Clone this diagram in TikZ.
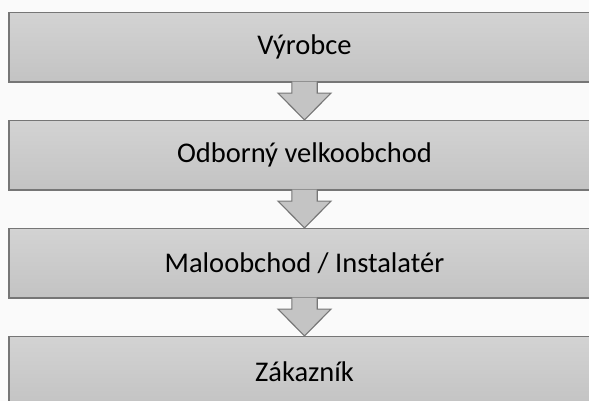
\documentclass[tikz,border=0pt]{standalone}
\usepackage{fontspec}
\setmainfont{Carlito}
\usetikzlibrary{calc,shadows}
\definecolor{bg}{HTML}{FAFAFA}
\definecolor{boxtop}{HTML}{D3D3D3}
\definecolor{boxbot}{HTML}{C3C3C3}
\definecolor{edge}{HTML}{767676}
\definecolor{arrfill}{HTML}{C4C4C4}
\tikzset{
  stagebox/.style={rectangle, minimum width=591pt, minimum height=69.5pt,
    top color=boxtop, bottom color=boxbot, draw=edge, line width=1.3pt,
    font=\fontsize{28.5}{30}\selectfont, text=black, inner sep=0pt,
    drop shadow={shadow xshift=-0.6pt, shadow yshift=-0.8pt, opacity=0.35}},
  downarrow/.style={fill=arrfill, draw=edge, line width=1.1pt, line join=miter}
}
\begin{document}
\begin{tikzpicture}[x=1pt,y=1pt]
\useasboundingbox (0,0) rectangle (589,-401);
\fill[bg] (0,0) rectangle (589,-401);
\clip (0,0) rectangle (589,-401);
\node[stagebox] (b1) at (304.5,-47.25) {Výrobce};
\node[stagebox] (b2) at (304.5,-155.25) {Odborný velkoobchod};
\node[stagebox] (b3) at (304.5,-263.25) {Maloobchod / Instalatér};
\node[stagebox] (b4) at (304.5,-371.25) {Zákazník};
\foreach \a/\b in {b1/b2,b2/b3,b3/b4}{
  \filldraw[downarrow] ([xshift=-12.7pt,yshift=1pt]\a.south) -- ([xshift=-12.7pt,yshift=-10.5pt]\a.south)
    -- ([xshift=-26.5pt,yshift=-10.5pt]\a.south) -- (\b.north)
    -- ([xshift=26.5pt,yshift=-10.5pt]\a.south) -- ([xshift=12.7pt,yshift=-10.5pt]\a.south)
    -- ([xshift=12.7pt,yshift=1pt]\a.south);
}
\end{tikzpicture}
\end{document}
